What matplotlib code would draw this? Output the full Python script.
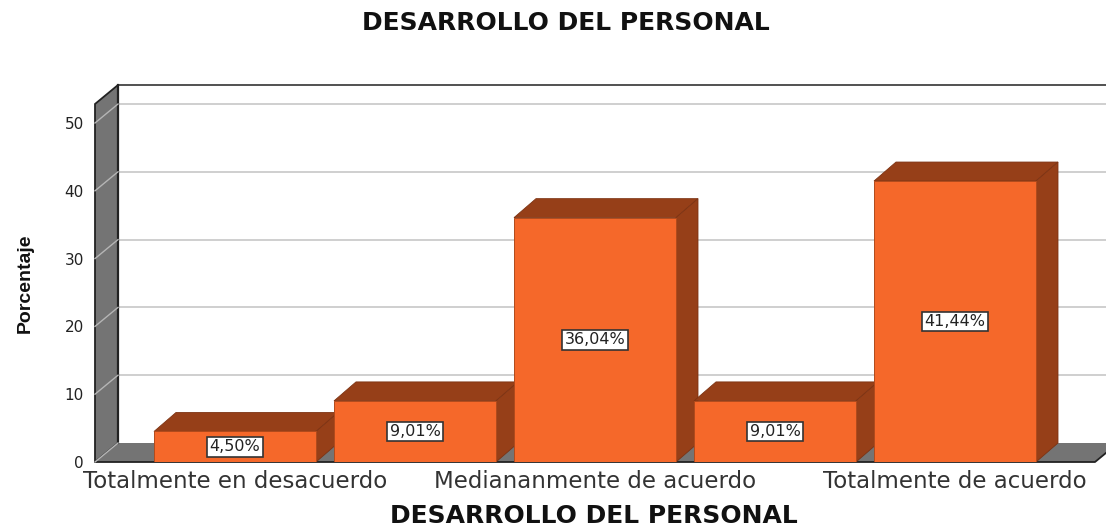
"""Bar chart with fake 3D depth"""

import matplotlib
matplotlib.use("Agg")
import matplotlib.pyplot as plt
from matplotlib.patches import Polygon

categories = ["Totalmente en desacuerdo", "En desacuerdo", "Mediananmente de acuerdo",
              "De acuerdo", "Totalmente de acuerdo"]
shown_labels = ["Totalmente en desacuerdo", "", "Mediananmente de acuerdo", "", "Totalmente de acuerdo"]
percentages = [4.50, 9.01, 36.04, 9.01, 41.44]
value_labels = ["4,50%", "9,01%", "36,04%", "9,01%", "41,44%"]
y_ticks = [0, 10, 20, 30, 40, 50]

W, H = 1106, 526
ORANGE = "#f5682a"
BROWN = "#963f18"
GREY = "#747474"

fig = plt.figure(figsize=(W / 100, H / 100), dpi=100)
# front plane of the box in pixels: x 95-1095, y 104-462
ax = fig.add_axes([95 / W, 1 - 462 / H, 1000 / W, (462 - 104) / H])

y_top = (462 - 104) / 6.78
x_left = -140 / 180
x_right = x_left + 1000 / 180
ax.set_xlim(x_left, x_right)
ax.set_ylim(0, y_top)

# depth of the box and bars, in data units
depth_x = 23 / 180
depth_y = 19 / 6.78
bar_depth_x = 22 / 180
bar_depth_y = 19 / 6.78
bar_width = 162 / 180

for side in ax.spines.values():
    side.set_visible(False)
ax.patch.set_visible(False)

# back wall grid lines, running off the right edge
wall_right = x_right + depth_x
for v in y_ticks[1:]:
    ax.plot([x_left + depth_x, wall_right], [v + depth_y, v + depth_y],
            color="#cfcfcf", lw=1.4, zorder=1, clip_on=False)
ax.plot([x_left + depth_x, wall_right], [y_top + depth_y, y_top + depth_y],
        color="#333333", lw=1.2, zorder=1, clip_on=False)

# left wall and floor
ax.add_patch(Polygon([(x_left, 0), (x_left + depth_x, depth_y),
                      (x_left + depth_x, y_top + depth_y), (x_left, y_top)],
                     facecolor=GREY, edgecolor="#222222", lw=1.3, zorder=2, clip_on=False))
ax.add_patch(Polygon([(x_left, 0), (x_right, 0), (wall_right, depth_y), (x_left + depth_x, depth_y)],
                     facecolor=GREY, edgecolor="none", zorder=2, clip_on=False))
ax.plot([x_left, x_right, wall_right], [0, 0, depth_y], color="#222222", lw=1.3, zorder=2.5, clip_on=False)
ax.plot([x_left + depth_x, x_left + depth_x], [depth_y, y_top + depth_y], color="#222222", lw=1.6,
        zorder=3, clip_on=False)
for v in y_ticks:
    ax.plot([x_left, x_left + depth_x], [v, v + depth_y], color="#b5b5b5", lw=1, zorder=3, clip_on=False)

# bars drawn left to right so each one covers the previous side face
for i, v in enumerate(percentages):
    z = 4 + i
    left = i - bar_width / 2
    right = i + bar_width / 2
    ax.add_patch(Polygon([(left, v), (right, v), (right + bar_depth_x, v + bar_depth_y),
                          (left + bar_depth_x, v + bar_depth_y)],
                         facecolor=BROWN, edgecolor="#7d3313", lw=0.6, zorder=z))
    ax.add_patch(Polygon([(right, 0), (right + bar_depth_x, bar_depth_y),
                          (right + bar_depth_x, v + bar_depth_y), (right, v)],
                         facecolor=BROWN, edgecolor="#7d3313", lw=0.6, zorder=z))
    ax.bar(i, v, width=bar_width, color=ORANGE, edgecolor="#b04a1c", linewidth=0.7, zorder=z + 0.5)
    ax.text(i, v / 2, value_labels[i], ha="center", va="center", fontsize=11.5, color="#222222",
            family="DejaVu Sans", zorder=z + 1,
            bbox=dict(boxstyle="square,pad=0.15", facecolor="white", edgecolor="#333333", linewidth=1.2))

ax.set_xticks(range(len(categories)))
ax.set_xticklabels(shown_labels, fontsize=16.5, color="#333333", family="DejaVu Sans")
ax.set_yticks(y_ticks)
ax.set_yticklabels([str(t) for t in y_ticks], fontsize=11, color="#222222", family="DejaVu Sans")
ax.tick_params(axis="both", length=0)
ax.tick_params(axis="x", pad=6)
ax.tick_params(axis="y", pad=8)

fig.text(566 / W, 1 - 23 / H, "DESARROLLO DEL PERSONAL", ha="center", va="center",
         fontsize=18, fontweight="bold", color="#111111", family="DejaVu Sans")
fig.text(594 / W, 1 - 516 / H, "DESARROLLO DEL PERSONAL", ha="center", va="center",
         fontsize=18, fontweight="bold", color="#111111", family="DejaVu Sans")
fig.text(25 / W, 1 - 283 / H, "Porcentaje", rotation=90, ha="center", va="center",
         fontsize=14, fontweight="bold", color="#111111", family="Liberation Sans")

fig.savefig("out.png", dpi=100, facecolor="white")
